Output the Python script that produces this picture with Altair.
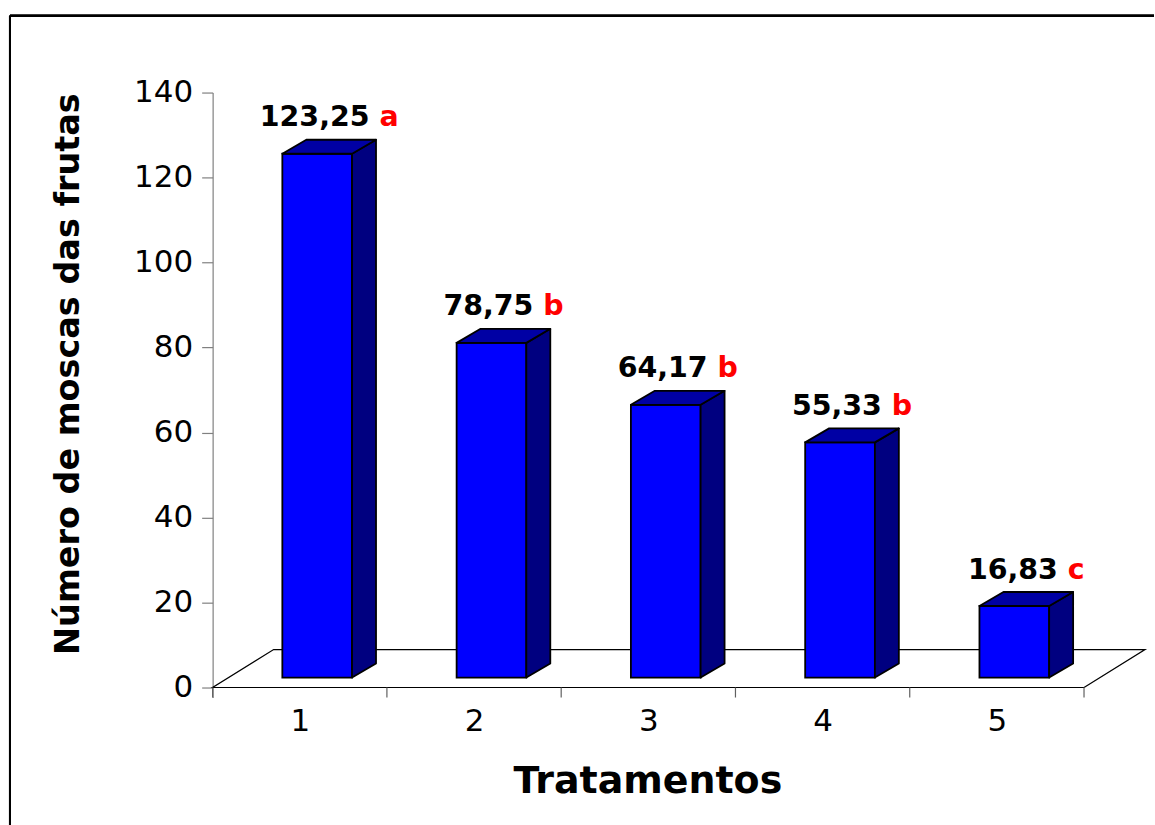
import altair as alt
import pandas as pd

# ---------------- data ----------------
tratamentos = [1, 2, 3, 4, 5]
medias = [123.25, 78.75, 64.17, 55.33, 16.83]
rotulos = ["123,25", "78,75", "64,17", "55,33", "16,83"]
letras = ["a", "b", "b", "b", "c"]
y_ticks = [0, 20, 40, 60, 80, 100, 120, 140]
x_tick_bounds = [0.5, 1.5, 2.5, 3.5, 4.5, 5.5]

# ---------------- pseudo-3D geometry (axis units) ----------------
BASE = 2.35          # bar base lift above the floor front edge
TICK_DOWN = 2.35     # length of ticks below zero
DY = 3.3             # bar depth (vertical shift)
DX = 0.1375          # bar depth (horizontal shift)
FL, FR = -0.10, 0.30 # front face position relative to category centre
FLOOR_DX = 0.35
FLOOR_DY = 8.93
LABEL_GAP = 8.8

X_DOM = [0.5, 5.5 + FLOOR_DX]
Y_DOM = [-TICK_DOWN, 140]
W = 934
PX_PER_X = W / (X_DOM[1] - X_DOM[0])
xs = alt.Scale(domain=X_DOM, nice=False, zero=False)
ys = alt.Scale(domain=Y_DOM, nice=False, zero=False)

FONT = "DejaVu Sans"
LFS = 28.5  # label font size
# approximate DejaVu Sans Bold advance widths (em)
ADV = {d: 0.696 for d in "0123456789"}
ADV.update({",": 0.38, " ": 0.348, "a": 0.675, "b": 0.716, "c": 0.593})

def width_px(s):
    return sum(ADV[ch] for ch in s) * LFS

AX = alt.Axis(
    values=tratamentos, tickSize=0, domain=False, grid=False, labelAngle=0,
    labelPadding=9, labelFontSize=31, labelFont=FONT, labelColor="black", format="d",
    title="Tratamentos", titleFont=FONT, titleFontSize=38, titleFontWeight="bold",
    titleColor="black", titleX=435.5, titleY=95, titleAlign="center",
    titleBaseline="alphabetic")
AY = alt.Axis(
    values=y_ticks, tickSize=11, tickColor="#808080", domainColor="#808080",
    tickWidth=1.2, domainWidth=1.2, grid=False,
    labelPadding=9, labelFontSize=31, labelFont=FONT, labelColor="black",
    title="Número de moscas das frutas", titleFont=FONT, titleFontSize=33.5,
    titleFontWeight="bold", titleColor="black", titleAngle=270, titleX=-134,
    titleY=281.5, titleAlign="center", titleBaseline="alphabetic")

front = pd.DataFrame({
    "t": tratamentos,
    "x": [t + FL for t in tratamentos],
    "x2": [t + FR for t in tratamentos],
    "y": [BASE] * len(medias),
    "y2": [BASE + v for v in medias],
})

side_rows, top_rows = [], []
for t, v in zip(tratamentos, medias):
    side_rows.append({"bar": t, "x": t + FR, "y": BASE, "y2": BASE + v})
    side_rows.append({"bar": t, "x": t + FR + DX, "y": BASE + DY, "y2": BASE + v + DY})
    top_rows.append({"bar": t, "y": BASE + v, "x": t + FL, "x2": t + FR})
    top_rows.append({"bar": t, "y": BASE + v + DY, "x": t + FL + DX, "x2": t + FR + DX})
side = pd.DataFrame(side_rows)
top = pd.DataFrame(top_rows)

floor = pd.DataFrame({
    "o": [0, 1, 2, 3, 4],
    "x": [5.5, 0.5, 0.5 + FLOOR_DX, 5.5 + FLOOR_DX, 5.5],
    "y": [0, 0, FLOOR_DY, FLOOR_DY, 0],
})

ticks = pd.DataFrame({"x": x_tick_bounds, "y": [0] * 6, "y2": [-TICK_DOWN] * 6})

lab_rows = []
for t, v, r, l in zip(tratamentos, medias, rotulos, letras):
    c = t + FL + (FR - FL + DX) / 2
    total = width_px(r + " " + l)
    num_end = c + (width_px(r) - total / 2) / PX_PER_X
    let_start = c + (width_px(r + " ") - total / 2) / PX_PER_X
    lab_rows.append({"xn": num_end, "xl": let_start, "y": v + LABEL_GAP, "num": r, "let": l})
labels = pd.DataFrame(lab_rows)

X = lambda f="x:Q": alt.X(f, scale=xs, axis=AX)
Y = lambda f="y:Q": alt.Y(f, scale=ys, axis=AY)

# ---------------- layers ----------------
floor_l = alt.Chart(floor).mark_line(color="black", strokeWidth=1.2).encode(
    x=X(), y=Y(), order="o:Q")

front_l = alt.Chart(front).mark_rect(color="#0000FF", stroke="black", strokeWidth=1.8).encode(
    x=X(), x2="x2:Q", y=Y(), y2="y2:Q")

side_l = alt.Chart(side).mark_area(orient="vertical", color="#000080", stroke="black",
                                   strokeWidth=1.8, strokeJoin="round").encode(
    x=X(), y=Y(), y2="y2:Q", detail="bar:N")

top_l = alt.Chart(top).mark_area(orient="horizontal", color="#0000A4", stroke="black",
                                 strokeWidth=1.8, strokeJoin="round").encode(
    y=Y(), x=X(), x2="x2:Q", detail="bar:N")

ticks_l = alt.Chart(ticks).mark_rule(color="#606060", strokeWidth=1.2).encode(
    x=X(), y=Y(), y2="y2:Q")

lab_black = alt.Chart(labels).mark_text(font=FONT, fontSize=LFS, fontWeight="bold",
                                        color="black", align="right",
                                        baseline="alphabetic").encode(
    x=X("xn:Q"), y=Y(), text="num:N")
lab_red = alt.Chart(labels).mark_text(font=FONT, fontSize=LFS, fontWeight="bold",
                                      color="#FF0000", align="left",
                                      baseline="alphabetic").encode(
    x=X("xl:Q"), y=Y(), text="let:N")

frame_top = alt.Chart(floor).mark_rule(color="black", strokeWidth=2).encode(
    x=alt.value(-203), x2=alt.value(943), y=alt.value(-77))
frame_left = alt.Chart(floor).mark_rule(color="black", strokeWidth=2).encode(
    x=alt.value(-203), y=alt.value(-77), y2=alt.value(734))

chart = alt.layer(
    floor_l, front_l, side_l, top_l, ticks_l, lab_black, lab_red, frame_top, frame_left
).properties(
    width=W, height=606,
    padding={"left": 9, "top": 14, "right": 0, "bottom": 0},
).configure(
    background="white",
    view=alt.ViewConfig(stroke="transparent", strokeWidth=0),
)

chart.save("out.html", embed_options={"renderer": "svg", "actions": False})
